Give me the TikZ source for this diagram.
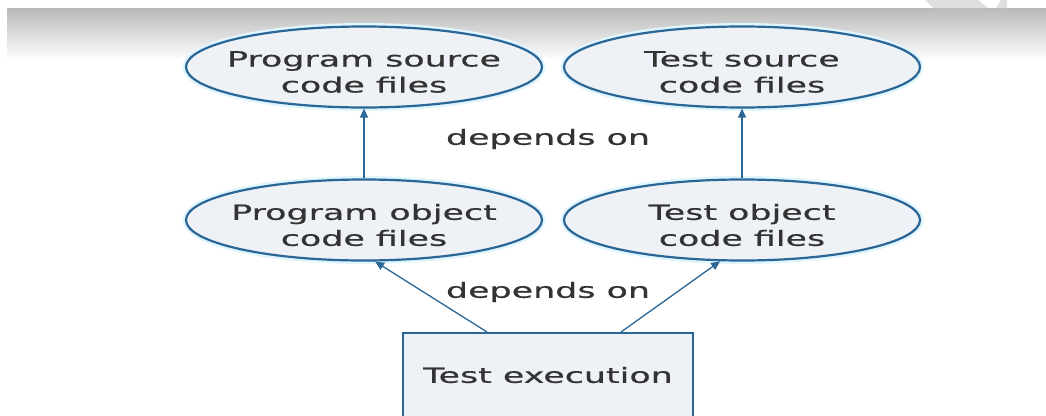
\documentclass[tikz,border=0pt]{standalone}
\usepackage{fontspec}
\setmainfont{DejaVu Sans}[FakeStretch=1.66, FakeBold=0.5]
\usetikzlibrary{shapes.geometric,arrows.meta,calc}
\definecolor{edgeblue}{HTML}{2A6796}
\definecolor{fillc}{HTML}{EEF1F5}
\definecolor{textc}{HTML}{333333}
\begin{document}
\begin{tikzpicture}[x=1pt,y=-1pt,
  ell/.style={ellipse, draw=edgeblue, line width=2.2pt, fill=fillc,
    minimum width=356pt, minimum height=81pt, inner sep=0pt,
    preaction={draw=cyan!12, line width=7pt}},
  txt/.style={text=textc, font=\fontsize{21}{26}\selectfont, align=center},
  lbl/.style={txt, yshift=-5pt},
  boxstyle/.style={rectangle, draw=edgeblue, line width=2pt, fill=fillc,
    minimum width=290pt, minimum height=84pt, inner sep=0pt, txt},
  arr/.style={draw=edgeblue, line width=1.3pt, -{Triangle[length=9pt,width=8pt]}}]
\useasboundingbox (0,0) rectangle (1046,415);
\fill[white] (0,0) rectangle (1046,415);
\shade[top color=gray!55, bottom color=white] (7,8) rectangle (1046,60);
\fill[gray!25] (925,0) -- (978,0) -- (988,8) -- (933,8) -- cycle;
\fill[gray!25] (996,8) -- (1001,0) -- (1007,0) -- (1007,8) -- cycle;

\node[ell, label={[lbl]center:{Program source\\code files}}] (ps) at (364,67) {};
\node[ell, label={[lbl]center:{Test source\\code files}}] (ts) at (742,67) {};
\node[ell, label={[lbl]center:{Program object\\code files}}] (po) at (364,220) {};
\node[ell, label={[lbl]center:{Test object\\code files}}] (to) at (742,220) {};
\node[boxstyle] (te) at (548,375) {Test execution};

\node[txt] (d1) at (548,139) {depends on};
\node[txt] (d2) at (548,292) {depends on};

\coordinate (s1) at ($(te.north west)+(85,0)$);
\coordinate (s2) at ($(te.north west)+(219,0)$);

\draw[arr] (po.north) -- (ps.south);
\draw[arr] (to.north) -- (ts.south);
\draw[arr] (s1) -- (po.-75);
\draw[arr] (s2) -- (to.-118);
\end{tikzpicture}
\end{document}
